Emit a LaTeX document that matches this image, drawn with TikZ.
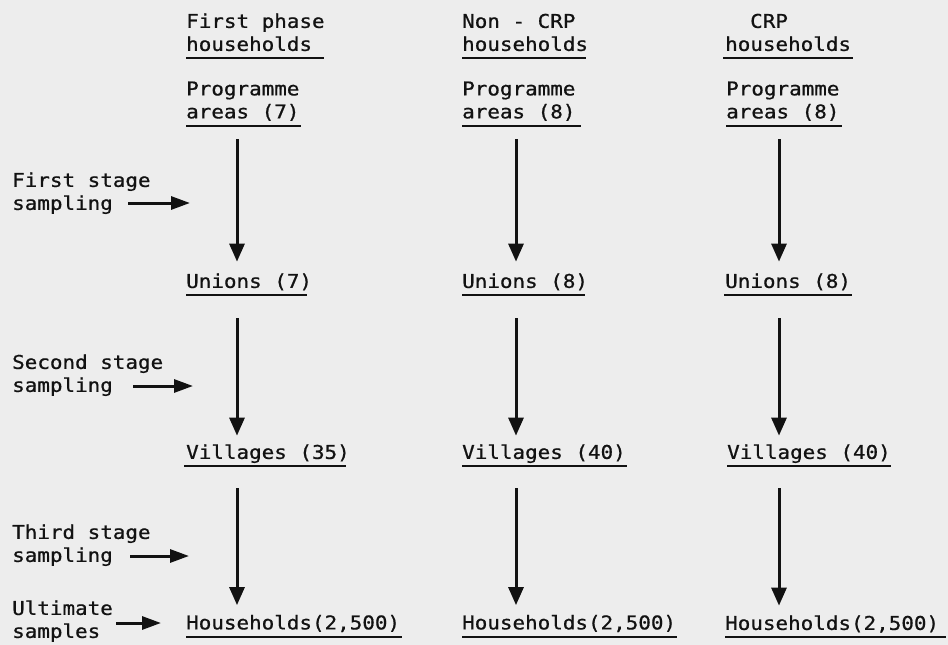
\documentclass[tikz,border=0pt]{standalone}
\usepackage{fontspec}
\newfontfamily\tw{DejaVu Sans Mono}[FakeStretch=1.1,FakeBold=0.8]
\usetikzlibrary{arrows.meta,calc}
\definecolor{bg}{RGB}{237,237,237}
\definecolor{ink}{RGB}{18,18,18}
\begin{document}
\begin{tikzpicture}[x=1pt,y=-1pt,
  txt/.style={inner sep=0pt, anchor=south west, align=left,
              font=\tw\fontsize{19}{23}\selectfont, text=ink},
  uline/.style={line width=2pt, draw=ink},
  varrow/.style={line width=3pt, draw=ink, -{Triangle[width=15pt,length=18pt]}},
  harrow/.style={line width=3pt, draw=ink, -{Triangle[width=13pt,length=19pt]}}]
\fill[bg] (0,0) rectangle (948,645);
\useasboundingbox (0,0) rectangle (948,645);

% column x positions for arrows
\coordinate (c1) at (237,0);
\coordinate (c2) at (516,0);
\coordinate (c3) at (779,0);

% column 1
\node[txt] (h1) at (186,58) {\strut First phase\\\strut households};
\node[txt] (p1) at (186,125.5) {\strut Programme\\\strut areas (7)};
\node[txt] (u1) at (186,295) {\strut Unions (7)};
\node[txt] (v1) at (186,466) {\strut Villages (35)};
\node[txt] (hh1) at (186,636.5) {\strut Households(2,500)};

% column 2
\node[txt] (h2) at (462,58) {\strut Non - CRP\\\strut households};
\node[txt] (p2) at (462,125.5) {\strut Programme\\\strut areas (8)};
\node[txt] (u2) at (462,295) {\strut Unions (8)};
\node[txt] (v2) at (462,466) {\strut Villages (40)};
\node[txt] (hh2) at (462,636.5) {\strut Households(2,500)};

% column 3
\node[txt] (h3) at (725,58) {\strut\hspace*{25pt}CRP\\\strut households};
\node[txt] (p3) at (726,125.5) {\strut Programme\\\strut areas (8)};
\node[txt] (u3) at (725,295) {\strut Unions (8)};
\node[txt] (v3) at (727,466) {\strut Villages (40)};
\node[txt] (hh3) at (725,637) {\strut Households(2,500)};

% left labels
\node[txt] (l1) at (12,217) {\strut First stage\\\strut sampling};
\node[txt] (l2) at (12,399) {\strut Second stage\\\strut sampling};
\node[txt] (l3) at (12,569) {\strut Third stage\\\strut sampling};
\node[txt] (l4) at (12,645) {\strut Ultimate\\\strut samples};

% underlines
\draw[uline] (h1.south west) -- ++(138,0);
\draw[uline] (p1.south west) -- ++(115,0);
\draw[uline] (u1.south west) -- ++(121,0);
\draw[uline] ($(v1.south west)+(-2,0)$) -- ++(162,0);
\draw[uline] (hh1.south west) -- ++(216,0);

\draw[uline] (h2.south west) -- ++(124,0);
\draw[uline] (p2.south west) -- ++(119,0);
\draw[uline] (u2.south west) -- ++(123,0);
\draw[uline] (v2.south west) -- ++(165,0);
\draw[uline] (hh2.south west) -- ++(215,0);

\draw[uline] ($(h3.south west)+(-2,0)$) -- ++(130,0);
\draw[uline] (p3.south west) -- ++(116,0);
\draw[uline] ($(u3.south west)+(-1,0)$) -- ++(128,0);
\draw[uline] (v3.south west) -- ++(164,0);
\draw[uline] (hh3.south west) -- ++(221,0);

% vertical arrows
\foreach \c in {1,2,3}{
  \draw[varrow, shorten <=13.5pt, shorten >=10pt] (p\c.south -| c\c) -- (u\c.north -| c\c);
  \draw[varrow, shorten <=23pt, shorten >=7pt] (u\c.south -| c\c) -- (v\c.north -| c\c);
  \draw[varrow, shorten <=22pt, shorten >=8pt] (v\c.south -| c\c) -- (hh\c.north -| c\c);
}

% sampling arrows
\coordinate (a1s) at (128,203); \coordinate (a1e) at (190,203);
\coordinate (a2s) at (133,386); \coordinate (a2e) at (193,386);
\coordinate (a3s) at (130,556); \coordinate (a3e) at (189,556);
\coordinate (a4s) at (116,623); \coordinate (a4e) at (161,623);
\draw[harrow] (a1s) -- (a1e);
\draw[harrow] (a2s) -- (a2e);
\draw[harrow] (a3s) -- (a3e);
\draw[harrow] (a4s) -- (a4e);
\end{tikzpicture}
\end{document}
